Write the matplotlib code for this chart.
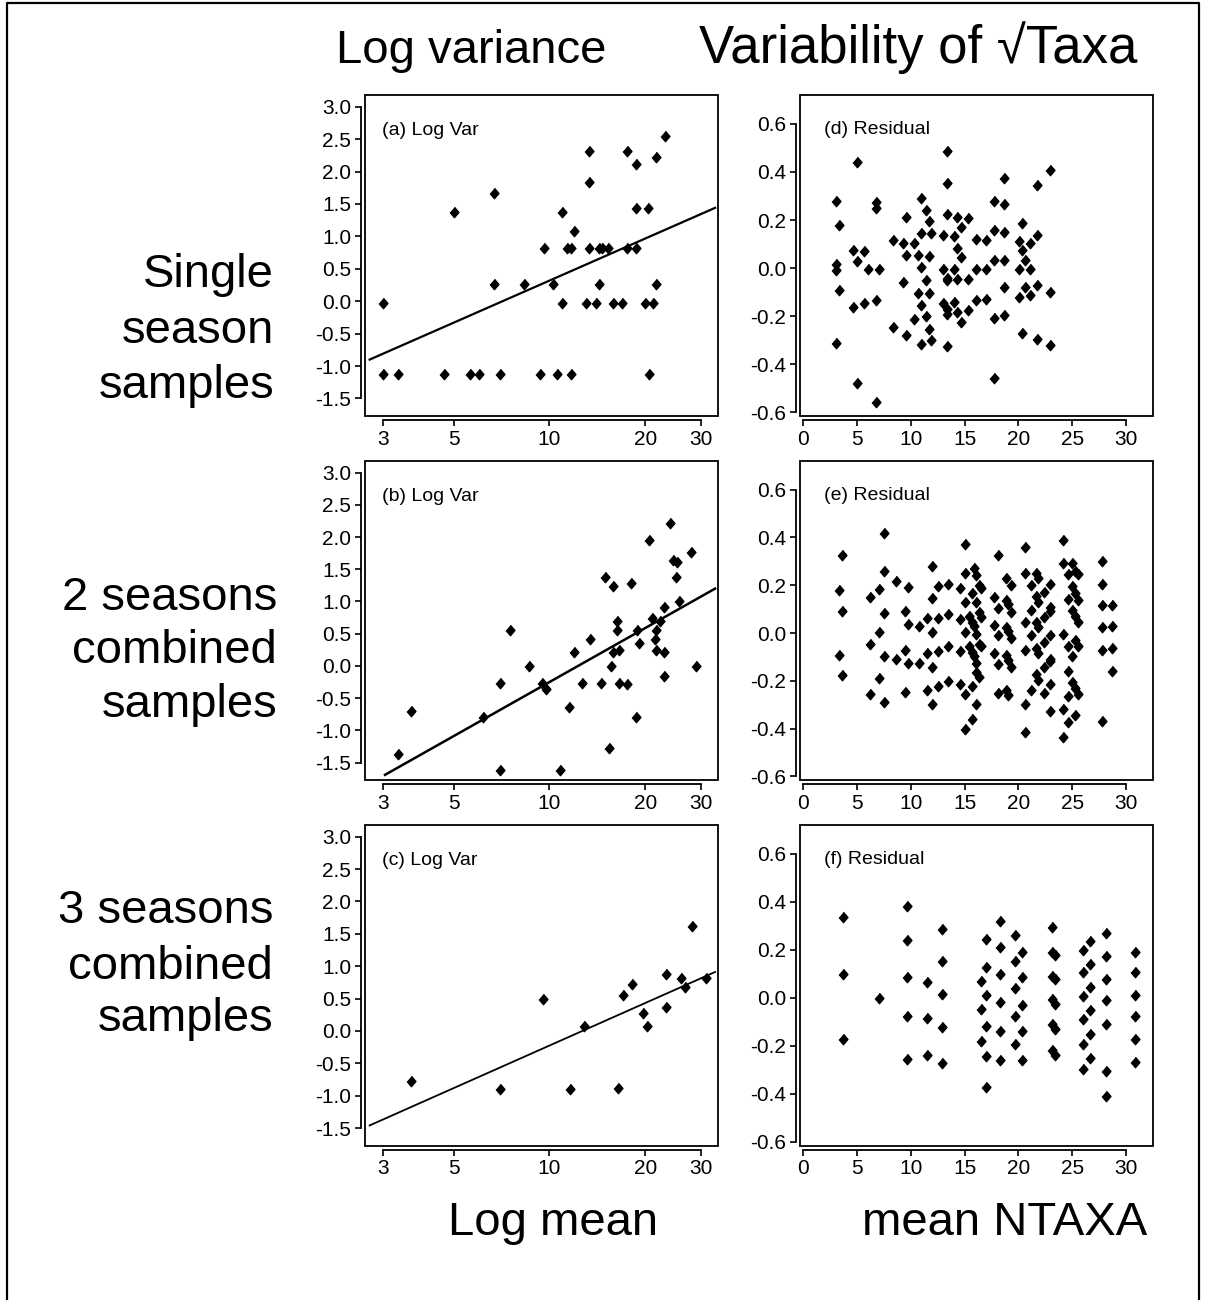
import matplotlib
matplotlib.use('Agg')
import matplotlib.pyplot as plt
from matplotlib.patches import Rectangle
from matplotlib.lines import Line2D
from matplotlib.ticker import NullLocator

plt.rcParams['font.family'] = ['Liberation Sans', 'DejaVu Sans']
plt.rcParams['axes.unicode_minus'] = False

# (a) single season: log mean vs log variance
a_x = [3.0, 3.0, 3.33, 4.66, 5.02, 5.64, 6.01, 6.71, 6.71, 6.99, 8.32, 9.32, 9.64,
       10.28, 10.59, 10.98, 10.98, 11.33, 11.69, 11.69, 11.95, 13.0, 13.32, 13.32,
       13.32, 13.98, 14.32, 14.32, 14.67, 15.32, 15.89, 16.96, 17.59, 17.59, 18.73,
       18.73, 18.73, 19.99, 20.48, 20.63, 21.13, 21.6, 21.6, 23.1]
a_y = [-0.03, -1.13, -1.13, -1.13, 1.37, -1.13, -1.13, 1.67, 0.27, -1.13, 0.27, -1.13,
       0.82, 0.27, -1.13, 1.37, -0.03, 0.82, -1.13, 0.82, 1.09, -0.03, 2.31, 1.84,
       0.82, -0.03, 0.82, 0.27, 0.82, 0.82, -0.03, -0.03, 2.31, 0.82, 2.11, 1.44,
       0.82, -0.03, 1.44, -1.13, -0.03, 2.22, 0.27, 2.55]
a_line_x = [2.72, 33.2]
a_line_y = [-0.90, 1.44]

# (b) 2 seasons combined
b_x = [3.35, 3.68, 6.19, 6.99, 6.99, 7.51, 8.64, 9.45, 9.75, 10.77, 11.55, 11.95,
       12.63, 13.42, 14.5, 14.96, 15.44, 15.63, 15.81, 15.89, 16.32, 16.32, 16.52,
       16.52, 17.59, 18.1, 18.73, 18.91, 19.14, 20.63, 21.08, 21.49, 21.65, 21.65,
       22.23, 23.0, 23.0, 23.0, 23.96, 24.43, 25.15, 25.03, 25.52, 27.84, 28.86]
b_y = [-1.37, -0.70, -0.79, -0.27, -1.61, 0.56, 0.0, -0.26, -0.36, -1.61, -0.63, 0.21,
       -0.26, 0.42, -0.26, 1.38, -1.27, 0.0, 1.24, 0.21, 0.69, 0.56, 0.25, -0.26,
       -0.28, 1.28, -0.79, 0.56, 0.36, 1.95, 0.74, 0.42, 0.55, 0.24, 0.69, 0.91,
       0.21, -0.15, 2.22, 1.65, 1.61, 1.38, 1.01, 1.77, 0.0]
b_line_x = [3.04, 33.2]
b_line_y = [-1.69, 1.20]

# (c) 3 seasons combined
c_x = [3.68, 6.99, 9.57, 11.61, 12.88, 16.48, 17.0, 18.15, 19.75, 20.23, 23.22, 23.22,
       25.89, 26.78, 28.18, 31.03]
c_y = [-0.77, -0.90, 0.50, -0.90, 0.08, -0.88, 0.55, 0.73, 0.27, 0.08, 0.88, 0.37,
       0.82, 0.68, 1.62, 0.82]
c_line_x = [2.72, 33.2]
c_line_y = [-1.46, 0.91]

# (d) residuals, single season
d_x = [3.03, 3.03, 3.03, 3.03, 3.31, 3.31, 4.64, 4.64, 4.95, 4.95, 4.95, 5.66, 5.66,
       6.06, 6.74, 6.74, 6.74, 6.74, 7.02, 8.35, 8.35, 9.28, 9.28, 9.59, 9.59, 9.59,
       10.27, 10.27, 10.67, 10.67, 10.95, 10.95, 10.95, 10.95, 10.95, 11.38, 11.38,
       11.38, 11.66, 11.66, 11.66, 11.66, 11.91, 11.91, 13.02, 13.02, 13.02, 13.33,
       13.33, 13.33, 13.33, 13.33, 13.33, 13.33, 13.33, 14.01, 14.01, 14.01, 14.32,
       14.32, 14.32, 14.32, 14.69, 14.69, 14.69, 15.34, 15.34, 15.34, 16.08, 16.08,
       16.08, 17.01, 17.01, 17.01, 17.72, 17.72, 17.72, 17.72, 17.72, 18.68, 18.68,
       18.68, 18.68, 18.68, 18.68, 20.04, 20.04, 20.04, 20.32, 20.32, 20.32, 20.6,
       20.6, 21.03, 21.03, 21.03, 21.71, 21.71, 21.71, 21.71, 22.95, 22.95, 22.95]
d_y = [0.279, 0.018, -0.007, -0.31, 0.179, -0.092, 0.077, -0.162, 0.442, 0.031, -0.479,
       0.07, -0.144, -0.004, 0.275, 0.251, -0.134, -0.558, -0.004, 0.119, -0.243,
       0.105, -0.059, 0.212, 0.056, -0.28, 0.103, -0.213, 0.053, -0.105, 0.293, 0.144,
       0.003, -0.153, -0.317, 0.24, -0.049, -0.2, 0.194, 0.049, -0.105, -0.253, 0.144,
       -0.3, 0.138, -0.004, -0.147, 0.488, 0.353, 0.226, -0.039, -0.049, -0.172,
       -0.191, -0.324, 0.133, -0.004, -0.14, 0.212, 0.084, -0.045, -0.181, 0.172,
       0.045, -0.226, 0.207, -0.045, -0.174, 0.123, -0.004, -0.134, 0.116, -0.004,
       -0.127, 0.279, 0.16, 0.035, -0.209, -0.458, 0.374, 0.265, 0.151, 0.035, -0.078,
       -0.195, 0.112, -0.004, -0.12, 0.186, 0.074, -0.269, 0.035, -0.078, 0.103,
       -0.004, -0.112, 0.346, 0.138, -0.07, -0.293, 0.407, -0.098, -0.321]

# (e) residuals, 2 seasons combined
e_x = [3.3, 3.3, 3.6, 3.6, 3.6, 6.19, 6.19, 6.19, 7.02, 7.02, 7.02,
       7.52, 7.52, 7.52, 7.52, 7.52, 8.66, 8.66, 9.5, 9.5, 9.5, 9.77, 9.77, 9.77,
       10.73, 10.73, 11.54, 11.54, 11.54, 11.94, 11.94, 11.94, 11.94, 11.94,
       12.53, 12.53, 12.53, 12.53, 13.49, 13.49, 13.49, 13.49,
       14.54, 14.54, 14.54, 14.54, 15.0, 15.0, 15.0, 15.0, 15.0, 15.0,
       15.37, 15.37, 15.68, 15.68, 15.68, 15.68, 15.68, 15.84, 15.84, 15.84,
       16.08, 16.08, 16.08, 16.08, 16.08, 16.08, 16.3, 16.3, 16.3, 16.3,
       16.49, 16.49, 16.49, 17.72, 17.72, 17.72, 18.09, 18.09, 18.09, 18.09, 18.09,
       18.81, 18.81, 18.81, 18.81, 18.81, 19.02, 19.02, 19.02, 19.02,
       19.27, 19.27, 19.27, 19.27, 20.57, 20.57, 20.57, 20.57, 20.57, 20.63,
       21.13, 21.13, 21.13, 21.13, 21.59, 21.59, 21.59, 21.59, 21.59,
       21.81, 21.81, 21.81, 21.81, 21.81, 22.36, 22.36, 22.36, 22.36, 22.36,
       22.95, 22.95, 22.95, 22.95, 22.95, 22.95, 22.95, 22.95,
       24.16, 24.16, 24.16, 24.16, 24.16, 24.59, 24.59, 24.59, 24.59, 24.59, 24.59,
       24.96, 24.96, 24.96, 24.96, 24.96, 25.27, 25.27, 25.27, 25.27, 25.27, 25.27,
       25.52, 25.52, 25.52, 25.52, 25.52, 27.75, 27.75, 27.75, 27.75, 27.75, 27.75,
       28.7, 28.7, 28.7, 28.7]
e_y = [0.18, -0.09, 0.327, 0.091, -0.177, 0.152, -0.045, -0.257, 0.185, 0.003, -0.188,
       0.42, 0.26, 0.084, -0.096, -0.29, 0.218, -0.11, 0.091, -0.069, -0.246,
       0.193, 0.038, -0.124, 0.031, -0.124, 0.063, -0.083, -0.239,
       0.281, 0.145, 0.003, -0.144, -0.299, 0.198, 0.063, -0.077, -0.223,
       0.205, 0.078, -0.056, -0.199, 0.187, 0.059, -0.075, -0.212,
       0.374, 0.253, 0.132, 0.006, -0.257, -0.402, 0.072, -0.055,
       0.166, 0.048, -0.08, -0.221, -0.36, 0.274, 0.031, -0.094,
       0.242, 0.128, -0.003, -0.124, -0.163, -0.298, 0.2, 0.087, -0.045, -0.184,
       0.187, 0.066, -0.055, 0.152, 0.035, -0.084, 0.327, 0.105, -0.01, -0.131, -0.253,
       0.23, 0.139, 0.024, -0.09, -0.239, 0.121, 0.009, -0.114, -0.26,
       0.2, 0.087, -0.022, -0.144, 0.361, 0.045, -0.069, -0.299, -0.413, 0.253,
       0.2, 0.098, -0.01, -0.237, 0.253, 0.153, 0.046, -0.062, -0.17,
       0.232, 0.132, 0.024, -0.084, -0.198, 0.173, 0.069, -0.036, -0.144, -0.253,
       0.207, 0.107, 0.093, -0.01, -0.108, -0.117, -0.212, -0.327,
       0.388, 0.295, -0.003, -0.318, -0.434, 0.246, 0.142, -0.055, -0.158, -0.263, -0.371,
       0.295, 0.198, 0.098, -0.096, -0.205, 0.26, 0.167, 0.072, -0.028, -0.232, -0.341,
       0.246, 0.139, 0.045, -0.055, -0.257, 0.302, 0.205, 0.119, 0.024, -0.069, -0.367,
       0.119, 0.031, -0.063, -0.159]

# (f) residuals, 3 seasons combined
f_x = [3.74, 3.74, 3.74, 7.02, 9.65, 9.65, 9.65, 9.65, 9.65, 11.54, 11.54, 11.54,
       12.9, 12.9, 12.9, 12.9, 12.9, 16.49, 16.49, 16.49,
       17.01, 17.01, 17.01, 17.01, 17.01, 17.01, 18.31, 18.31, 18.31, 18.31, 18.31, 18.31,
       19.64, 19.64, 19.64, 19.64, 19.64, 20.32, 20.32, 20.32, 20.32, 20.32,
       23.14, 23.14, 23.14, 23.14, 23.14, 23.14, 23.35, 23.35, 23.35, 23.35, 23.35,
       25.98, 25.98, 25.98, 25.98, 25.98, 25.98, 26.63, 26.63, 26.63, 26.63, 26.63, 26.63,
       28.14, 28.14, 28.14, 28.14, 28.14, 28.14, 28.14,
       30.87, 30.87, 30.87, 30.87, 30.87, 30.87]
f_y = [0.335, 0.099, -0.171, 0.0, 0.381, 0.241, 0.086, -0.077, -0.255, 0.065, -0.082, -0.238,
       0.288, 0.152, 0.017, -0.123, -0.273, 0.072, -0.048, -0.178,
       0.246, 0.127, 0.011, -0.116, -0.244, -0.373, 0.322, 0.213, 0.099, -0.017, -0.138, -0.259,
       0.262, 0.155, 0.039, -0.077, -0.191, 0.193, 0.086, -0.029, -0.138, -0.259,
       0.297, 0.193, 0.092, -0.006, -0.109, -0.217, 0.18, 0.079, -0.025, -0.131, -0.238,
       0.2, 0.106, 0.006, -0.089, -0.192, -0.298, 0.235, 0.141, 0.046, -0.049, -0.15, -0.252,
       0.269, 0.173, 0.078, -0.01, -0.109, -0.305, -0.408,
       0.193, 0.106, 0.013, -0.077, -0.171, -0.266]

log_ticks = [3, 5, 10, 20, 30]
logvar_ticks = [-1.5, -1.0, -0.5, 0.0, 0.5, 1.0, 1.5, 2.0, 2.5, 3.0]
ntaxa_ticks = [0, 5, 10, 15, 20, 25, 30]
resid_ticks = [-0.6, -0.4, -0.2, 0.0, 0.2, 0.4, 0.6]

row_labels = [['Single', 'season', 'samples'],
              ['2 seasons', 'combined', 'samples'],
              ['3 seasons', 'combined', 'samples']]

W, H = 1205, 1300
fig = plt.figure(figsize=(W / 100, H / 100), dpi=100)

diamond = [(0, 1), (0.85, 0), (0, -1), (-0.85, 0)]


def fx(px):
    return px / W


def fy(py):
    return 1 - py / H


def style(ax, xt, yt):
    for s in ['top', 'right']:
        ax.spines[s].set_visible(False)
    for s in ['left', 'bottom']:
        ax.spines[s].set_position(('outward', 3))
        ax.spines[s].set_linewidth(1.3)
    ax.spines['left'].set_bounds(yt[0], yt[-1])
    ax.spines['bottom'].set_bounds(xt[0], xt[-1])
    ax.add_patch(Rectangle((0, 0), 1, 1, transform=ax.transAxes, fill=False,
                           lw=1.3, ec='black', clip_on=False, zorder=5))
    ax.set_yticks(yt)
    ax.set_yticklabels(['%.1f' % v for v in yt])
    ax.tick_params(direction='out', length=4, width=1.2, labelsize=15, pad=3)


lefts = [365, 800]
rows = [(95, 416), (461, 780), (825, 1145.5)]
left_data = [(a_x, a_y, a_line_x, a_line_y, '(a) Log Var', 1.6),
             (b_x, b_y, b_line_x, b_line_y, '(b) Log Var', 1.8),
             (c_x, c_y, c_line_x, c_line_y, '(c) Log Var', 1.3)]
right_data = [(d_x, d_y, '(d) Residual'), (e_x, e_y, '(e) Residual'),
              (f_x, f_y, '(f) Residual')]

for i, (top, bot) in enumerate(rows):
    # log variance panel
    ax = fig.add_axes([fx(lefts[0]), fy(bot), fx(353), (bot - top) / H])
    xs, ys, lx, ly, lab, lw = left_data[i]
    ax.plot(lx, ly, color='black', lw=lw)
    ax.plot(xs, ys, linestyle='none', marker=diamond, ms=7.5, color='black')
    ax.set_xscale('log')
    ax.set_xlim(2.63, 33.9)
    ax.set_ylim(-1.77, 3.18)
    ax.set_xticks(log_ticks)
    ax.set_xticklabels([str(t) for t in log_ticks])
    ax.xaxis.set_minor_locator(NullLocator())
    style(ax, log_ticks, logvar_ticks)
    ax.text(0.047, 0.875, lab, transform=ax.transAxes, fontsize=14, va='baseline')

    # residual panel
    ax = fig.add_axes([fx(lefts[1]), fy(bot), fx(353), (bot - top) / H])
    xs, ys, lab = right_data[i]
    ax.plot(xs, ys, linestyle='none', marker=diamond, ms=7.5, color='black')
    ax.set_xlim(-0.3, 32.5)
    ax.set_ylim(-0.615, 0.72)
    ax.set_xticks(ntaxa_ticks)
    style(ax, ntaxa_ticks, resid_ticks)
    ax.text(0.068, 0.878, lab, transform=ax.transAxes, fontsize=14, va='baseline')

# row labels on the left
label_pos = [(274, [287, 343, 398]), (277, [610, 663, 717]), (273, [923, 979, 1031])]
for (rx, bases), lines in zip(label_pos, row_labels):
    for b, t in zip(bases, lines):
        fig.text(fx(rx), fy(b), t, ha='right', va='baseline', fontsize=34)

fig.text(fx(471), fy(63), 'Log variance', ha='center', va='baseline', fontsize=34)
fig.text(fx(918), fy(63), 'Variability of \u221aTaxa', ha='center', va='baseline', fontsize=38)
fig.text(fx(553), fy(1235), 'Log mean', ha='center', va='baseline', fontsize=34)
fig.text(fx(1005), fy(1235), 'mean NTAXA', ha='center', va='baseline', fontsize=34)

# outer frame (bottom edge cut off in the original)
fig.add_artist(Line2D([fx(7), fx(7), fx(1199), fx(1199)], [0, fy(3), fy(3), 0],
                      color='black', lw=1.6))

fig.savefig('out.png', dpi=100)
